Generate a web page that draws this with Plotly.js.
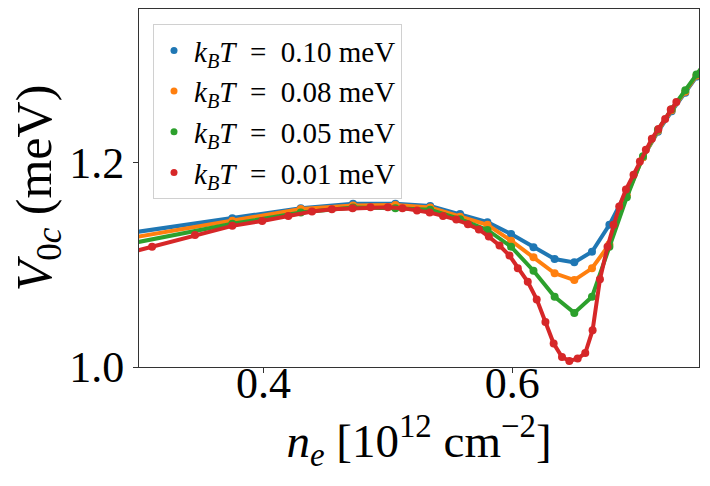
<!DOCTYPE html>
<html>
<head>
<meta charset="utf-8">
<script src="https://cdn.plot.ly/plotly-3.0.1.min.js"></script>
<style>
  body { margin: 0; background: white; }
  #plotlyFig { width: 710px; height: 486px; }
</style>
</head>
<body>
<div id="plotlyFig"></div>
<script>
// n_e grid shared by the three warmer curves
const neCoarse = [0.29, 0.375, 0.43, 0.472, 0.506, 0.534, 0.558, 0.58, 0.599, 0.617, 0.634, 0.6498, 0.664, 0.678, 0.692, 0.705, 0.717, 0.728, 0.739, 0.748, 0.757];
const v010 = [1.1306, 1.1455, 1.1553, 1.1595, 1.1595, 1.1575, 1.1497, 1.1416, 1.130, 1.117, 1.1056, 1.1023, 1.1127, 1.139, 1.172, 1.205, 1.230, 1.250, 1.268, 1.284, 1.299];
const v008 = [1.1255, 1.143, 1.1545, 1.158, 1.1585, 1.156, 1.147, 1.139, 1.1235, 1.1073, 1.0916, 1.085, 1.0965, 1.12, 1.168, 1.205, 1.231, 1.251, 1.269, 1.285, 1.300];
const v005 = [1.120, 1.140, 1.151, 1.156, 1.1553, 1.1537, 1.1445, 1.134, 1.1176, 1.0941, 1.0686, 1.0529, 1.0686, 1.1176, 1.166, 1.206, 1.232, 1.252, 1.2706, 1.286, 1.301];

// finer grid for the coldest curve
const neFine = [0.28, 0.3105, 0.345, 0.375, 0.399, 0.42, 0.439, 0.455, 0.4716, 0.486, 0.5, 0.5117, 0.5234, 0.5336, 0.5443, 0.555, 0.5643, 0.5731, 0.5811, 0.5897, 0.5977, 0.6044, 0.6124, 0.6196, 0.6266, 0.6332, 0.6399, 0.6458, 0.6525, 0.6586, 0.6645, 0.6704, 0.6765, 0.6813, 0.6859, 0.6913, 0.6974, 0.7025, 0.7073, 0.7121, 0.7174, 0.7228, 0.7273, 0.7318];
const v001 = [1.108, 1.1176, 1.129, 1.138, 1.1428, 1.1477, 1.152, 1.1543, 1.1553, 1.1563, 1.1563, 1.1553, 1.153, 1.151, 1.1477, 1.1441, 1.1396, 1.1345, 1.1275, 1.1188, 1.109, 1.0965, 1.0833, 1.0661, 1.0441, 1.0229, 1.0098, 1.0059, 1.0082, 1.0137, 1.036, 1.0857, 1.1176, 1.139, 1.157, 1.1735, 1.188, 1.201, 1.2125, 1.2232, 1.2327, 1.2425, 1.2517, 1.259];

const labels = ['0.10', '0.08', '0.05', '0.01'];
const colors = ['#1f77b4', '#ff7f0e', '#2ca02c', '#d62728'];
const series = [[neCoarse, v010], [neCoarse, v008], [neCoarse, v005], [neFine, v001]];

const serif = '"Liberation Serif", "DejaVu Serif", serif';

const traces = [];
series.forEach(([xs, ys], i) => {
    traces.push({
        x: xs,
        y: ys,
        type: 'scatter',
        mode: 'lines+markers',
        line: { color: colors[i], width: 4 },
        marker: { color: colors[i], size: 8 },
        showlegend: false,
    });
});
// legend shows only a dot, like the original
labels.forEach((lab, i) => {
    traces.push({
        x: [null],
        y: [null],
        type: 'scatter',
        mode: 'markers',
        marker: { color: colors[i], size: 7 },
        name: '<i>k</i><sub><i>B</i></sub><i>T</i>  =  ' + lab + ' meV',
    });
});

const layout = {
    width: 710,
    height: 486,
    margin: { l: 139, r: 11, t: 9, b: 119 },
    paper_bgcolor: 'white',
    plot_bgcolor: 'white',
    font: { family: serif, color: 'black', size: 44 },
    showlegend: true,
    legend: {
        x: 0.025,
        y: 0.958,
        xanchor: 'left',
        yanchor: 'top',
        bgcolor: 'rgba(255,255,255,0.8)',
        bordercolor: '#d0d0d0',
        borderwidth: 1,
        font: { family: serif, size: 29 },
        itemwidth: 30,
        tracegroupgap: 0,
    },
    xaxis: {
        range: [0.3, 0.75],
        tickvals: [0.4, 0.6],
        ticktext: ['0.4', '0.6'],
        ticks: 'outside',
        ticklen: 5,
        tickcolor: '#333',
        ticklabelstandoff: -28,
        showgrid: false,
        zeroline: false,
        showline: true,
        linecolor: '#333',
        linewidth: 1,
        mirror: true,
        tickfont: { size: 44 },
        title: {
            text: '<i>n</i><sub><i>e</i></sub> [10<sup>12</sup> cm<sup>−2</sup>]',
            font: { size: 47 },
            standoff: 4,
        },
    },
    yaxis: {
        range: [1.0, 1.35],
        tickvals: [1.0, 1.2],
        ticktext: ['1.0', '1.2'],
        ticks: 'outside',
        ticklen: 5,
        tickcolor: '#333',
        showgrid: false,
        zeroline: false,
        showline: true,
        linecolor: '#333',
        linewidth: 1,
        mirror: true,
        tickfont: { size: 44 },
        title: {
            text: '<i>V</i><sub>0<i>c</i></sub> (meV)',
            font: { size: 50 },
            standoff: 0,
        },
    },
};

Plotly.newPlot('plotlyFig', traces, layout, { staticPlot: true });
</script>
</body>
</html>
